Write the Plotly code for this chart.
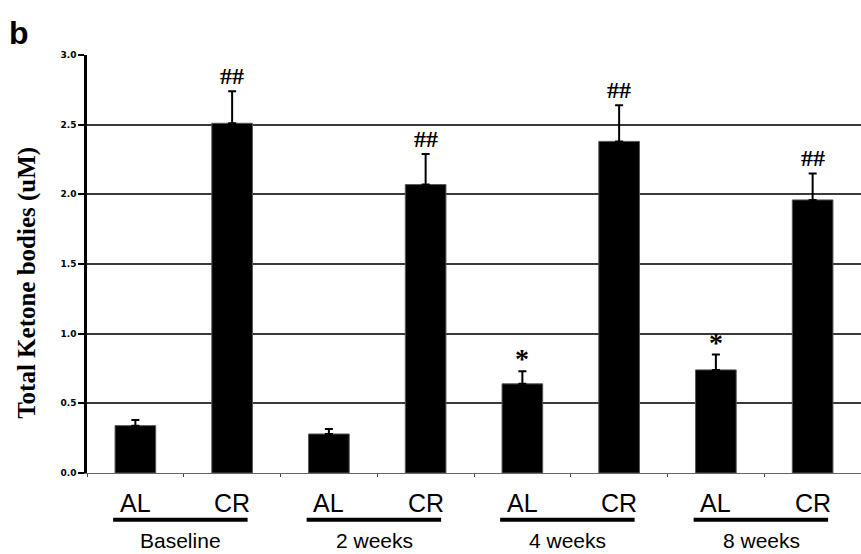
import plotly.graph_objects as go

# Total ketone bodies by diet (AL = ad libitum, CR = calorie restricted) and time point
groups = ["Baseline", "2 weeks", "4 weeks", "8 weeks"]
arms = ["AL", "CR"]
categories = [f"{g} {a}" for g in groups for a in arms]
means = [0.34, 2.51, 0.28, 2.07, 0.64, 2.38, 0.74, 1.96]
sem = [0.04, 0.23, 0.035, 0.22, 0.09, 0.26, 0.11, 0.19]
marks = ["", "##", "", "##", "*", "##", "*", "##"]
y_ticks = [0.0, 0.5, 1.0, 1.5, 2.0, 2.5, 3.0]

fig = go.Figure()
fig.add_trace(go.Bar(
    x=categories, y=means, width=0.42,
    marker=dict(color="black", line=dict(color="#555555", width=1)),
    error_y=dict(type="data", array=sem, arrayminus=[0] * len(sem),
                 symmetric=False, color="black", thickness=2, width=4),
    showlegend=False,
))

# significance marks above the error bars
for cat, m, s, mk in zip(categories, means, sem, marks):
    if not mk:
        continue
    fig.add_annotation(
        x=cat, y=m + s, text=f"<b>{mk}</b>", showarrow=False, yanchor="bottom",
        yshift=0 if mk == "##" else -5,
        font=dict(family="Liberation Serif", size=24 if mk == "##" else 28,
                  color="black"),
    )

# AL / CR labels, group underline and group names
for gi, g in enumerate(groups):
    for ai, a in enumerate(arms):
        fig.add_annotation(
            x=categories[2 * gi + ai], y=0, yref="paper", yshift=-30,
            text=a, showarrow=False, yanchor="middle",
            font=dict(family="Liberation Sans", size=25, color="black"),
        )
    fig.add_shape(
        type="line", xref="x", yref="paper",
        x0=2 * gi - 0.23, x1=2 * gi + 1.16, y0=-0.112, y1=-0.112,
        line=dict(color="black", width=4),
    )
    fig.add_annotation(
        x=2 * gi + 0.47, y=0, yref="paper", yshift=-67,
        text=g, showarrow=False, yanchor="middle",
        font=dict(family="Liberation Sans", size=21, color="black"),
    )

# panel letter
fig.add_annotation(
    x=0, y=1, xref="paper", yref="paper", xshift=-80, yshift=42,
    text="<b>b</b>", showarrow=False, xanchor="left", yanchor="top",
    font=dict(family="Liberation Sans", size=32, color="black"),
)

# y-axis title
fig.add_annotation(
    x=0, y=0.455, xref="paper", yref="paper", xshift=-60,
    text="<b>Total Ketone bodies (uM)</b>", textangle=-90, showarrow=False,
    xanchor="center", yanchor="middle",
    font=dict(family="Liberation Serif", size=25, color="black"),
)

fig.update_layout(
    width=861, height=554,
    margin=dict(l=87, r=0, t=55, b=81),
    paper_bgcolor="white", plot_bgcolor="white",
    xaxis=dict(
        type="category", range=[-0.5, 7.5], showticklabels=False,
        tickson="boundaries", ticks="outside", ticklen=3, tickcolor="#444",
        showgrid=False, showline=True, linecolor="#666", linewidth=1,
        zeroline=False,
    ),
    yaxis=dict(
        range=[0, 3.0], tickvals=y_ticks,
        ticktext=[f"<b>{v:.1f}</b>" for v in y_ticks],
        ticks="outside", ticklen=6, tickwidth=2, tickcolor="black",
        showline=True, linecolor="black", linewidth=2.5,
        showgrid=True, gridcolor="#3a3a3a", gridwidth=1.5, zeroline=False,
        tickfont=dict(family="DejaVu Sans", size=9, color="black"),
    ),
)

fig.write_html("out.html")
